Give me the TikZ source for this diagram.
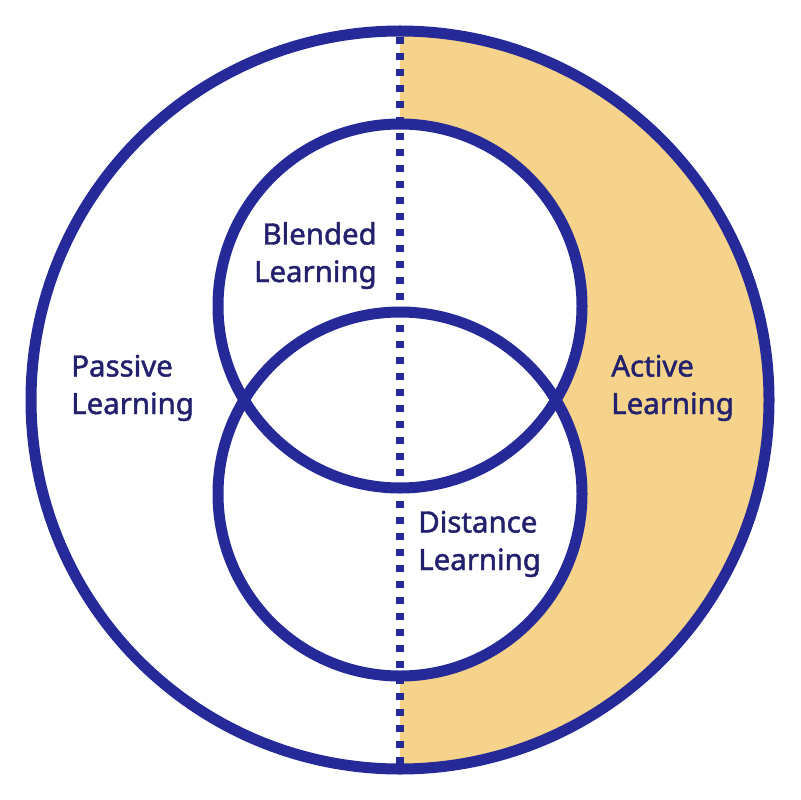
\documentclass[tikz,border=0pt]{standalone}
\usepackage{fontspec}
\setmainfont{Noto Sans}[FakeBold=1.5]
\usetikzlibrary{positioning}
\definecolor{ringblue}{HTML}{262A98}
\definecolor{textnavy}{HTML}{23216D}
\definecolor{activefill}{HTML}{F5D38A}

\begin{document}
\begin{tikzpicture}[x=0.025cm, y=-0.025cm,
    ring/.style={draw=ringblue, line width=0.275cm},
    divider/.style={draw=ringblue, line width=0.2cm, dash pattern=on 0.175cm off 0.225cm},
    lbl/.style={text=textnavy, inner sep=0pt, font=\bfseries\fontsize{20.9}{26.67}\selectfont}]
    \useasboundingbox (0,0) rectangle (800,800);

    % right half of the outer ring, yellow
    \begin{scope}
        \clip (400,0) rectangle (800,800);
        \fill[activefill] (400,400) circle[radius=369];
    \end{scope}
    \fill[white] (400,306) circle[radius=182] (400,494) circle[radius=182];

    \draw[ring] (400,400) circle[radius=369];
    \draw[ring] (400,306) circle[radius=182];
    \draw[ring] (400,494) circle[radius=182];

    \coordinate (top) at (400,37);
    \coordinate (bot) at (400,764);
    \draw[divider] (top) -- (bot);

    \node[lbl, align=right, anchor=base east] (blend) at (377,282) {Blended\\Learning};
    \node[lbl, align=left, anchor=base west] (dist) at (418,570) {Distance\\Learning};
    \node[lbl, align=left, anchor=base west] (pass) at (71,414) {Passive\\Learning};
    \node[lbl, align=left, anchor=base west] (act) at (611,414) {Active\\Learning};
\end{tikzpicture}
\end{document}
